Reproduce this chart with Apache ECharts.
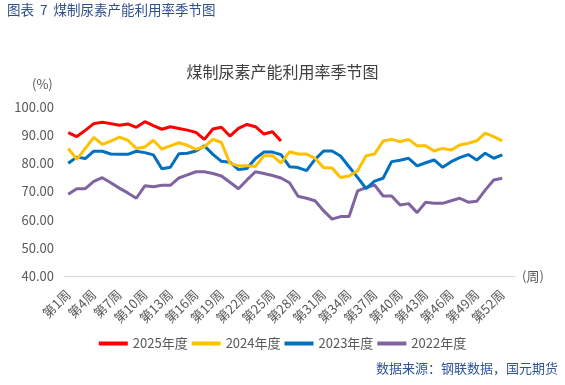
<!DOCTYPE html>
<html>
<head>
<meta charset="utf-8">
<script src="https://cdn.jsdelivr.net/npm/echarts@6/dist/echarts.min.js"></script>
<style>
html,body{margin:0;padding:0;background:#fff;}
#c{width:565px;height:385px;}
</style>
</head>
<body>
<div id="c"></div>
<script>
var weeks = [];
for (var i = 1; i <= 53; i++) weeks.push('第' + i + '周');

var y2025 = [90.9, 89.5, 91.7, 94.1, 94.6, 94.1, 93.5, 94.0, 92.8, 94.8, 93.4, 92.1, 93.0, 92.4, 91.8, 91.0, 88.5, 92.2, 92.8, 89.7, 92.4, 93.8, 93.0, 90.4, 91.2, 87.9];
var y2024 = [85.3, 81.4, 85.3, 89.2, 86.7, 87.9, 89.3, 88.2, 85.3, 85.8, 88.2, 85.1, 86.2, 87.3, 86.4, 85.0, 85.9, 88.5, 87.4, 80.0, 79.1, 79.1, 78.9, 82.7, 82.7, 80.1, 84.1, 83.3, 83.3, 81.8, 78.5, 78.3, 75.0, 75.5, 77.4, 82.7, 83.3, 87.9, 88.5, 87.7, 88.5, 86.2, 86.2, 84.4, 85.3, 84.7, 86.5, 87.1, 88.0, 90.7, 89.5, 88.0];
var y2023 = [80.0, 82.2, 81.7, 84.3, 84.3, 83.3, 83.2, 83.2, 84.3, 83.8, 83.0, 78.1, 78.6, 83.4, 83.6, 84.4, 86.2, 83.2, 80.7, 80.4, 77.8, 78.2, 81.7, 84.0, 84.0, 83.1, 78.8, 78.5, 77.4, 81.4, 84.4, 84.4, 82.6, 78.8, 75.0, 71.0, 73.7, 74.7, 80.6, 81.1, 81.8, 79.1, 80.2, 81.2, 78.6, 80.6, 82.0, 83.1, 81.2, 83.6, 81.8, 83.0];
var y2022 = [69.0, 71.0, 71.0, 73.6, 74.9, 73.1, 71.2, 69.5, 67.6, 72.0, 71.7, 72.2, 72.2, 74.8, 75.9, 77.0, 77.0, 76.4, 75.5, 73.3, 71.0, 74.1, 77.0, 76.4, 75.7, 74.8, 73.1, 68.3, 67.6, 66.7, 63.2, 60.2, 61.1, 61.1, 70.2, 71.4, 72.3, 68.4, 68.4, 65.2, 65.7, 62.5, 66.2, 65.8, 65.8, 66.7, 67.6, 66.2, 66.5, 70.5, 74.1, 74.7];

var seriesNames = ['2025年度', '2024年度', '2023年度', '2022年度'];
var seriesColors = ['#FF0000', '#FFC000', '#0070C0', '#8064A2'];
var seriesData = [y2025, y2024, y2023, y2022];

var FONT = '"Noto Sans CJK SC", "Noto Sans", sans-serif';
var chart = echarts.init(document.getElementById('c'), null, {renderer: 'canvas'});

var series = seriesNames.map(function (n, i) {
  return {
    name: n,
    type: 'line',
    data: seriesData[i],
    showSymbol: false,
    symbol: 'none',
    smooth: false,
    lineStyle: {width: 3, color: seriesColors[i]},
    itemStyle: {color: seriesColors[i]},
    z: 10 - i
  };
});

chart.setOption({
  animation: false,
  textStyle: {fontFamily: FONT},
  title: {
    text: '煤制尿素产能利用率季节图',
    left: 'center',
    top: 59,
    textStyle: {fontSize: 16, fontWeight: 'normal', color: '#404040', fontFamily: FONT}
  },
  legend: {
    data: seriesNames,
    left: 'center',
    top: 332,
    icon: 'rect',
    itemWidth: 29,
    itemHeight: 4,
    itemGap: 4,
    textStyle: {fontSize: 13, color: '#595959', fontFamily: FONT}
  },
  grid: {left: 64, right: 50, top: 107, bottom: 109, containLabel: false},
  xAxis: {
    type: 'category',
    data: weeks,
    boundaryGap: true,
    name: '(周)',
    nameLocation: 'end',
    nameGap: 7,
    nameTextStyle: {fontSize: 13, color: '#595959', fontFamily: FONT, verticalAlign: 'middle', padding: [12, 0, 0, 0]},
    axisLine: {lineStyle: {color: '#D9D9D9', width: 1}},
    axisTick: {show: false},
    axisLabel: {interval: 2, rotate: 45, fontSize: 13, color: '#595959', margin: 16, fontFamily: FONT},
    splitLine: {show: false}
  },
  yAxis: {
    type: 'value',
    min: 40,
    max: 100,
    interval: 10,
    axisLine: {show: false},
    axisTick: {show: false},
    splitLine: {show: false},
    axisLabel: {
      fontSize: 13, color: '#595959', margin: 10, fontFamily: FONT,
      formatter: function (v) { return v.toFixed(2); }
    }
  },
  graphic: [
    {type: 'text', left: 7, top: 3, style: {text: '图表  7  煤制尿素产能利用率季节图', font: '13.5px ' + FONT, fill: '#2F4F8A'}},
    {type: 'text', left: 32, top: 78, style: {text: '(%)', font: '13px ' + FONT, fill: '#595959'}},
    {type: 'text', right: 7, top: 362, style: {text: '数据来源：钢联数据，国元期货', font: '13px ' + FONT, fill: '#2F5597'}}
  ],
  series: series
});
</script>
</body>
</html>
